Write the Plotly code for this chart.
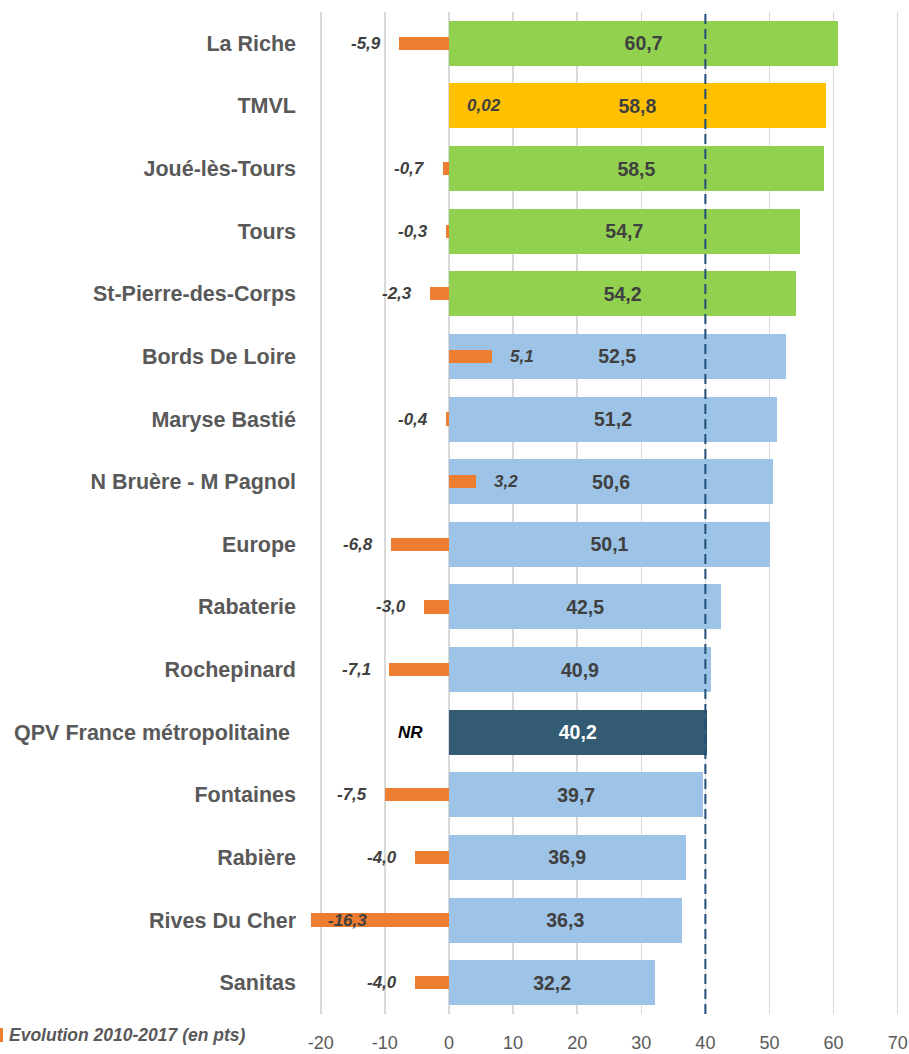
import plotly.graph_objects as go

# ---------------- data ----------------
categories = ["La Riche", "TMVL", "Joué-lès-Tours", "Tours", "St-Pierre-des-Corps",
              "Bords De Loire", "Maryse Bastié", "N Bruère - M Pagnol", "Europe",
              "Rabaterie", "Rochepinard", "QPV France métropolitaine", "Fontaines",
              "Rabière", "Rives Du Cher", "Sanitas"]
category_labels = categories[:11] + ["QPV France métropolitaine\u00a0"] + categories[12:]
values_2017 = [60.7, 58.8, 58.5, 54.7, 54.2, 52.5, 51.2, 50.6, 50.1,
               42.5, 40.9, 40.2, 39.7, 36.9, 36.3, 32.2]
evolution = [-5.9, 0.02, -0.7, -0.3, -2.3, 5.1, -0.4, 3.2, -6.8,
             -3.0, -7.1, None, -7.5, -4.0, -16.3, -4.0]
evolution_labels = ["-5,9", "0,02", "-0,7", "-0,3", "-2,3", "5,1", "-0,4", "3,2", "-6,8",
                    "-3,0", "-7,1", "NR", "-7,5", "-4,0", "-16,3", "-4,0"]
zone_type = ["commune", "agglo", "commune", "commune", "commune", "qpv", "qpv", "qpv", "qpv",
             "qpv", "qpv", "national", "qpv", "qpv", "qpv", "qpv"]
x_ticks = [-20, -10, 0, 10, 20, 30, 40, 50, 60, 70]
reference_value = 40
legend_text = "Evolution 2010-2017 (en pts)"

# ---------------- style ----------------
FONT = "Liberation Sans, Arial, sans-serif"
zone_colors = {"commune": "#92D050", "agglo": "#FFC000", "qpv": "#9DC3E6", "national": "#335B74"}
label_colors = {"commune": "#404040", "agglo": "#404040", "qpv": "#404040", "national": "#FFFFFF"}
ORANGE = "#ED7D31"
GRID = "#D9D9D9"
TXT = "#595959"

W, H = 909, 1054
ML, MR, MT, MB = 305, 4, 12, 40
main_range = [-22.46, 71.14]
evo_ratio = 1.321
evo_range = [r / evo_ratio for r in main_range]
label_min = -7.55

fig = go.Figure()

fig.add_trace(go.Bar(
    y=categories, x=values_2017, orientation="h",
    marker=dict(color=[zone_colors[z] for z in zone_type], line=dict(width=0)),
    width=0.72,
    texttemplate="%{x:.1f}", textposition="inside", insidetextanchor="middle",
    textangle=0, constraintext="none",
    textfont=dict(family=FONT, size=19.5, weight="bold",
                  color=[label_colors[z] for z in zone_type]),
    showlegend=False, hoverinfo="skip",
))

fig.add_trace(go.Bar(
    y=categories, x=evolution, orientation="h",
    marker=dict(color=ORANGE, line=dict(width=0)),
    width=0.21, xaxis="x2", yaxis="y",
    name=legend_text, showlegend=False, hoverinfo="skip",
))

annotations = []
for cat, v, lab in zip(categories, evolution, evolution_labels):
    if v is None:
        annotations.append(dict(x=0, y=cat, xref="x2", yref="y", text=f"<b><i>{lab}</i></b>",
                                xanchor="right", xshift=-24, showarrow=False,
                                font=dict(family=FONT, size=17, color="#000000")))
    elif v >= 0:
        annotations.append(dict(x=v, y=cat, xref="x2", yref="y", text=f"<b><i>{lab}</i></b>",
                                xanchor="left", xshift=16, showarrow=False,
                                font=dict(family=FONT, size=17, color="#404040")))
    else:
        annotations.append(dict(x=max(v, label_min), y=cat, xref="x2", yref="y",
                                text=f"<b><i>{lab}</i></b>",
                                xanchor="right", xshift=-16, showarrow=False,
                                font=dict(family=FONT, size=17, color="#404040")))

pw = W - ML - MR
ph = H - MT - MB
annotations.append(dict(x=(7 - ML) / pw, y=(MT + ph - 1035) / ph, xref="paper", yref="paper",
                        text=f"<b><i>{legend_text}</i></b>", xanchor="left", yanchor="middle",
                        showarrow=False, font=dict(family=FONT, size=17.5, color=TXT)))

shapes = [
    dict(type="line", xref="x", yref="paper", x0=reference_value, x1=reference_value, y0=0, y1=1,
         line=dict(color="#1F4E79", width=2, dash="10px,5px"), layer="above"),
    dict(type="rect", xref="paper", yref="paper",
         x0=(-8 - ML) / pw, x1=(3 - ML) / pw,
         y0=(MT + ph - 1042) / ph, y1=(MT + ph - 1028) / ph,
         fillcolor=ORANGE, line=dict(width=0)),
]

fig.update_layout(
    width=W, height=H,
    margin=dict(l=ML, r=MR, t=MT, b=MB, pad=0, autoexpand=False),
    paper_bgcolor="white", plot_bgcolor="white",
    separators=", ",
    bargap=0, barmode="overlay",
    xaxis=dict(range=main_range, tickvals=x_ticks, ticktext=[str(t) for t in x_ticks],
               showgrid=True, gridcolor=GRID, gridwidth=1.5, zeroline=False,
               showline=False, ticks="", ticklabelstandoff=16, automargin=False,
               tickfont=dict(family=FONT, size=18, color=TXT)),
    xaxis2=dict(range=evo_range, overlaying="x", side="top", visible=False,
                showgrid=False, zeroline=False),
    yaxis=dict(categoryorder="array", categoryarray=categories, autorange="reversed",
               tickvals=categories, ticktext=category_labels,
               showgrid=False, zeroline=False, showline=False, ticks="",
               ticklabelstandoff=8, automargin=False,
               tickfont=dict(family=FONT, size=21.5, weight="bold", color=TXT)),
    annotations=annotations,
    shapes=shapes,
    showlegend=False,
)

fig.write_html("out.html", config={"displayModeBar": False, "staticPlot": True},
               post_script="document.body.style.margin='0';document.body.style.overflow='hidden';")
